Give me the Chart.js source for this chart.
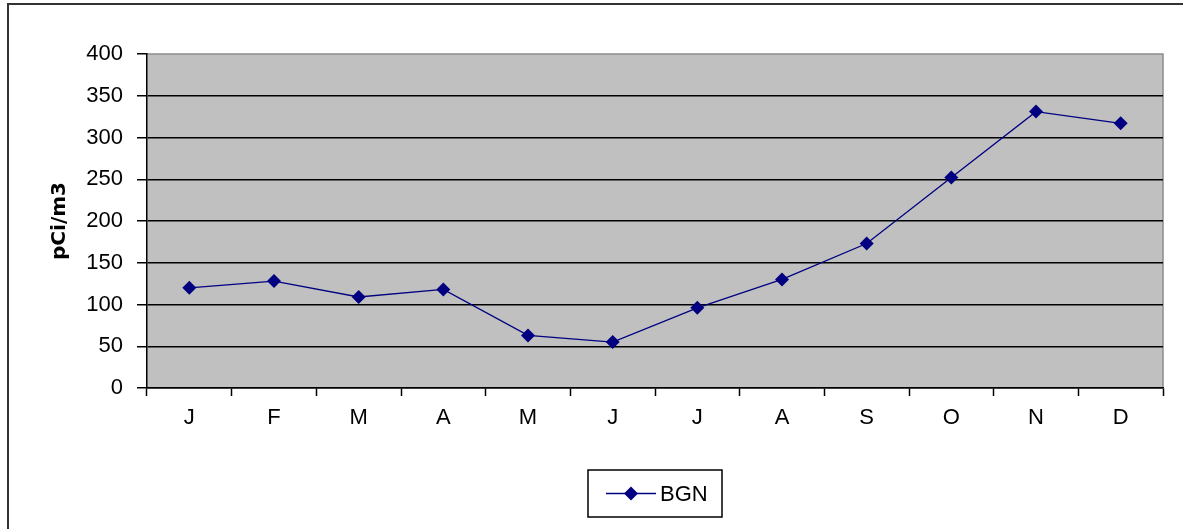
<!DOCTYPE html>
<html>
<head>
<meta charset="utf-8">
<script src="https://cdn.jsdelivr.net/npm/chart.js@4/dist/chart.umd.min.js"></script>
<style>
  html, body { margin: 0; padding: 0; background: #fff; overflow: hidden; }
  #frame {
    position: absolute; left: 7px; top: 3px; width: 1300px; height: 600px;
    border-left: 2px solid #333; border-top: 2px solid #333;
  }
  #wrap { position: absolute; left: 0; top: 0; width: 1183px; height: 529px; }
</style>
</head>
<body>
<div id="frame"></div>
<div id="wrap"><canvas id="chart"></canvas></div>
<script>
// months and monthly values
const months = ['J', 'F', 'M', 'A', 'M', 'J', 'J', 'A', 'S', 'O', 'N', 'D']
const bgnValues = [120, 128, 109, 118, 63, 55, 96, 130, 173, 252, 331, 317]
const seriesName = 'BGN'
const yTitle = 'pCi/m3'
const yMin = 0
const yMax = 400
const yStep = 50

const navy = '#000080'
const tickFont = { family: 'Liberation Sans', size: 22 }

// grey plot background + light frame on top/right
const plotBg = {
    id: 'plotBg',
    beforeDraw(chart) {
        const { ctx, chartArea: a } = chart
        ctx.save()
        ctx.fillStyle = '#c0c0c0'
        ctx.fillRect(a.left, a.top, a.right - a.left, a.bottom - a.top)
        ctx.strokeStyle = '#8c8c8c'
        ctx.lineWidth = 1.5
        ctx.beginPath()
        ctx.moveTo(a.left, a.top)
        ctx.lineTo(a.right, a.top)
        ctx.lineTo(a.right, a.bottom)
        ctx.stroke()
        ctx.restore()
    }
}

// boxed legend under the plot, like the old excel one
const boxLegend = {
    id: 'boxLegend',
    afterDraw(chart) {
        const { ctx, chartArea: a } = chart
        const ds = chart.data.datasets[0]
        const cx = (a.left + a.right) / 2
        const w = 134, h = 47
        const x0 = cx - w / 2
        const y0 = a.bottom + 82
        ctx.save()
        ctx.strokeStyle = '#000'
        ctx.lineWidth = 1.5
        ctx.strokeRect(x0, y0, w, h)
        const ly = y0 + h / 2
        ctx.strokeStyle = ds.borderColor
        ctx.lineWidth = 1.5
        ctx.beginPath()
        ctx.moveTo(x0 + 18, ly)
        ctx.lineTo(x0 + 68, ly)
        ctx.stroke()
        ctx.fillStyle = ds.pointBackgroundColor
        ctx.beginPath()
        ctx.moveTo(x0 + 43, ly - 7)
        ctx.lineTo(x0 + 50, ly)
        ctx.lineTo(x0 + 43, ly + 7)
        ctx.lineTo(x0 + 36, ly)
        ctx.closePath()
        ctx.fill()
        ctx.fillStyle = '#000'
        ctx.font = '22px "Liberation Sans"'
        ctx.textBaseline = 'middle'
        ctx.fillText(ds.label, x0 + 72, ly + 1)
        ctx.restore()
    }
}

new Chart(document.getElementById('chart'), {
    type: 'line',
    data: {
        labels: months,
        datasets: [{
            label: seriesName,
            data: bgnValues,
            borderColor: navy,
            borderWidth: 1.3,
            pointStyle: 'rectRot',
            pointRadius: 7,
            pointBackgroundColor: navy,
            pointBorderColor: navy,
            pointBorderWidth: 0,
            tension: 0
        }]
    },
    options: {
        responsive: true,
        maintainAspectRatio: false,
        animation: false,
        layout: { padding: { left: 48, top: 54, right: 20, bottom: 0 } },
        plugins: {
            legend: { display: false },
            tooltip: { enabled: false }
        },
        scales: {
            x: {
                offset: true,
                grid: {
                    offset: true,
                    drawOnChartArea: false,
                    drawTicks: true,
                    tickLength: 8,
                    tickColor: '#000',
                    tickWidth: 1.5
                },
                border: { color: '#000', width: 1.5 },
                ticks: { color: '#000', font: tickFont, padding: 9, maxRotation: 0 },
                afterFit(scale) { scale.height = 141 }
            },
            y: {
                min: yMin,
                max: yMax,
                grid: {
                    color: ctx => ctx.tick && ctx.tick.value === yMax ? 'rgba(0,0,0,0)' : '#000',
                    lineWidth: 1.5,
                    tickLength: 10,
                    tickColor: '#000',
                    tickWidth: 1.5
                },
                border: { color: '#000', width: 1.5 },
                ticks: { stepSize: yStep, color: '#000', font: tickFont, padding: 14 },
                title: {
                    display: true,
                    text: yTitle,
                    color: '#000',
                    font: { family: 'DejaVu Sans', size: 20, weight: 'bold' },
                    padding: { top: 0, bottom: 0 }
                },
                afterFit(scale) { scale.width = 99 }
            }
        }
    },
    plugins: [plotBg, boxLegend]
})
</script>
</body>
</html>
